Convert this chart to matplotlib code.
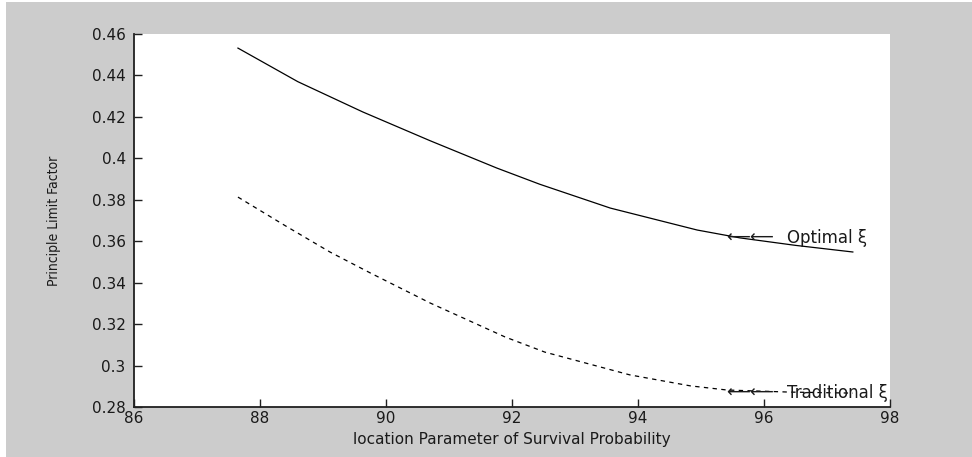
import matplotlib
matplotlib.use("Agg")
import matplotlib.pyplot as plt
from matplotlib.patches import Rectangle

# Location parameter of survival probability (%)
optimal_x = [87.65, 88.6, 89.63, 90.7, 91.76, 92.44, 93.56, 94.94, 95.62, 96.5, 97.41]
optimal_y = [0.4532, 0.4370, 0.4224, 0.4085, 0.3953, 0.3875, 0.3760, 0.3654, 0.3616, 0.3580, 0.3548]

traditional_x = [87.65, 88.4, 89.11, 89.75, 90.70, 91.89, 92.52, 93.87, 94.83, 95.41, 96.4, 97.41]
traditional_y = [0.3813, 0.3675, 0.3548, 0.3447, 0.3302, 0.3138, 0.3065, 0.2955, 0.2902, 0.2882, 0.2872, 0.2867]

x_ticks = [86, 88, 90, 92, 94, 96, 98]
y_ticks = [0.28, 0.30, 0.32, 0.34, 0.36, 0.38, 0.40, 0.42, 0.44, 0.46]
y_tick_labels = ["0.28", "0.3", "0.32", "0.34", "0.36", "0.38", "0.4", "0.42", "0.44", "0.46"]

W, H = 972, 457
fig = plt.figure(figsize=(W / 100, H / 100), dpi=100, facecolor="#cccccc")

# thin white margin on the left and top of the window
fig.patches.append(Rectangle((0, 0), 6 / W, 1, transform=fig.transFigure,
                             facecolor="white", edgecolor="none", zorder=-1))
fig.patches.append(Rectangle((0, 1 - 2 / H), 1, 2 / H, transform=fig.transFigure,
                             facecolor="white", edgecolor="none", zorder=-1))

ax = fig.add_axes([134 / W, 1 - 407 / H, (890 - 134) / W, (407 - 34) / H])
ax.set_facecolor("white")

ax.plot(optimal_x, optimal_y, color="black", lw=0.9, solid_joinstyle="round")
ax.plot(traditional_x, traditional_y, color="black", lw=0.9, linestyle=(0, (3.5, 3.5)))

ax.set_xlim(86, 98)
ax.set_ylim(0.28, 0.46)
ax.set_xticks(x_ticks)
ax.set_xticklabels([str(t) for t in x_ticks])
ax.set_yticks(y_ticks)
ax.set_yticklabels(y_tick_labels)

for s in ("top", "right"):
    ax.spines[s].set_visible(False)
for s in ("left", "bottom"):
    ax.spines[s].set_linewidth(1.3)
    ax.spines[s].set_color("#202020")

ax.tick_params(direction="in", length=6, width=1.0, labelsize=11, colors="#202020",
               labelcolor="#1a1a1a")
ax.tick_params(axis="y", pad=6)
ax.tick_params(axis="x", pad=3)

ax.set_xlabel("location Parameter of Survival Probability", fontsize=11, color="#1a1a1a",
              labelpad=4)
ax.set_ylabel("Principle Limit Factor", fontsize=10, color="#1a1a1a",
              family="DejaVu Sans", fontstretch="condensed")
ax.yaxis.label.set_va("center")
ax.yaxis.set_label_coords((54 - 134) / 756, 0.5)

# curve annotations: two arrows followed by the curve name
arrow_kw = dict(fontsize=12, color="#1a1a1a", va="center", ha="left", clip_on=False)
name_kw = dict(fontsize=12, color="#1a1a1a", va="center", ha="left", clip_on=False)
opt_label_y = 0.3616
trad_label_y = 0.2867
for y, name in ((opt_label_y, "Optimal \u03be"), (trad_label_y, "Traditional \u03be")):
    ax.text(95.40, y, "\u27f5", **arrow_kw)
    ax.text(95.77, y, "\u27f5", **arrow_kw)
    ax.text(96.37, y, name, **name_kw)

fig.savefig("out.png", dpi=100, facecolor=fig.get_facecolor())
